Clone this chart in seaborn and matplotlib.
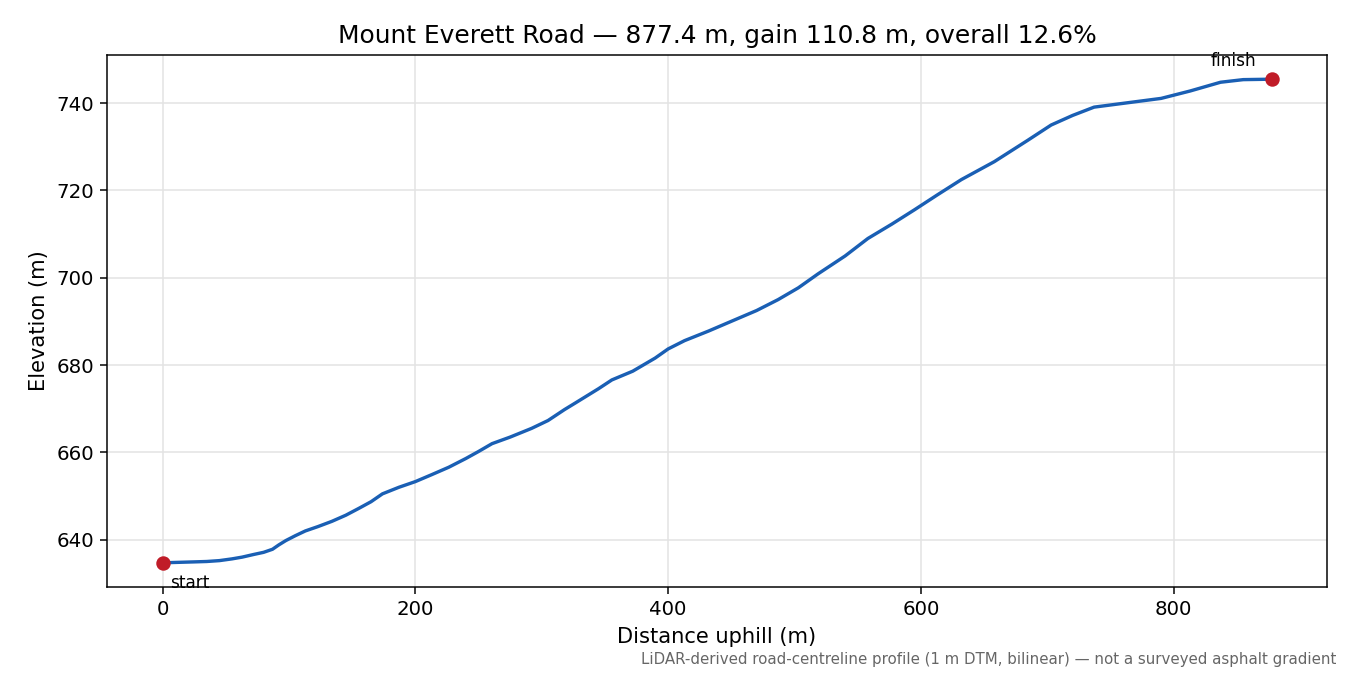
import matplotlib
matplotlib.use("Agg")
import matplotlib.pyplot as plt
import seaborn as sns
import pandas as pd

# distance along the road (m) and elevation (m)
distance = [0, 12, 24, 35, 45, 55, 63, 72, 80, 87, 92, 97.6, 105, 113, 123, 134,
            145, 155.5, 165, 174, 187, 200, 213, 226.5, 240, 250, 260.7, 275, 292,
            305, 318, 326.5, 345, 355.5, 372, 389.7, 400, 413, 432, 453, 470, 487,
            503, 518.6, 540, 558, 577, 595, 613, 632, 658, 684.5, 703, 720, 737,
            755.5, 790, 813, 837, 855, 877.4]
elevation = [634.7, 634.8, 634.9, 635.0, 635.2, 635.6, 636.0, 636.6, 637.1, 637.8,
             638.8, 639.8, 640.9, 642.0, 643.0, 644.2, 645.6, 647.2, 648.7, 650.5,
             652.0, 653.3, 654.9, 656.6, 658.6, 660.2, 662.0, 663.5, 665.5, 667.3,
             669.8, 671.3, 674.6, 676.6, 678.6, 681.6, 683.7, 685.6, 687.8, 690.4,
             692.5, 695.0, 697.7, 700.9, 705.0, 709.0, 712.3, 715.6, 719.0, 722.5,
             726.6, 731.5, 735.0, 737.2, 739.1, 739.8, 741.1, 742.8, 744.8, 745.4,
             745.5]

end_labels = ["start", "finish"]

df = pd.DataFrame({"distance": distance, "elevation": elevation})
ends = df.iloc[[0, -1]].copy()
ends["label"] = end_labels

fig = plt.figure(figsize=(10, 5), dpi=135)
ax = fig.add_axes([0.0793, 0.1304, 0.9037, 0.7881])

sns.lineplot(data=df, x="distance", y="elevation", color="#1a5fb4", linewidth=1.8, ax=ax)
ax.scatter(ends["distance"], ends["elevation"], color="#c01c28", s=45, zorder=3)

ax.annotate(ends["label"].iloc[0], (ends["distance"].iloc[0], ends["elevation"].iloc[0]),
            xytext=(4, -6), textcoords="offset points", ha="left", va="top", fontsize=9)
ax.annotate(ends["label"].iloc[1], (ends["distance"].iloc[1], ends["elevation"].iloc[1]),
            xytext=(-8, 5), textcoords="offset points", ha="right", va="bottom", fontsize=9)

ax.grid(True, color="#e3e3e3", linewidth=0.8)
ax.set_axisbelow(True)
ax.tick_params(labelsize=10.5)
ax.set_xticks([0, 200, 400, 600, 800])
ax.set_yticks([640, 660, 680, 700, 720, 740])
ax.set_xlabel("Distance uphill (m)", fontsize=11.2)
ax.set_ylabel("Elevation (m)", fontsize=11.2)
ax.set_title("Mount Everett Road \u2014 877.4 m, gain 110.8 m, overall 12.6%", fontsize=13.3, pad=6.5)

fig.text(0.99, 0.012, "LiDAR-derived road-centreline profile (1 m DTM, bilinear) \u2014 not a surveyed asphalt gradient",
         ha="right", va="bottom", fontsize=8, color="#666666")

fig.savefig("out.png", dpi=135)
